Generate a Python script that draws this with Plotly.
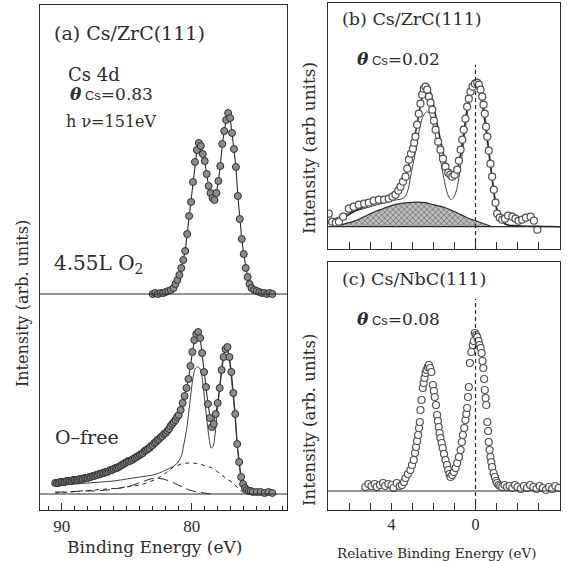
import plotly.graph_objects as go

# ---------------- data ----------------
# (a) Cs 4d, 4.55 L O2 exposed surface (intensity above its own baseline)
a_o2_be = [83.0, 82.8, 82.6, 82.4, 82.2, 82.0, 81.8, 81.6, 81.4, 81.25,
           81.1, 80.95, 80.8, 80.65, 80.5, 80.35, 80.2, 80.05, 79.9, 79.75,
           79.6, 79.45, 79.3, 79.15, 79.0, 78.85, 78.7, 78.55, 78.4, 78.25,
           78.1, 77.95, 77.8, 77.65, 77.5, 77.35, 77.2, 77.05, 76.9, 76.75,
           76.6, 76.45, 76.3, 76.15, 76.0, 75.85, 75.7, 75.55, 75.4, 75.2,
           75.0, 74.8, 74.6, 74.4, 74.2, 74.0, 73.8]
a_o2_int = [0, 1, 0, 1, 1, 2, 3, 4, 6, 10,
            14, 19, 26, 34, 43, 60, 78, 92, 112, 132,
            144, 151, 148, 140, 133, 120, 108, 101, 96, 94,
            101, 113, 128, 150, 163, 174, 181, 176, 161, 145,
            127, 98, 75, 55, 40, 26, 17, 10, 6, 4,
            3, 2, 1, 1, 0, 1, 0]

# (a) Cs 4d, O-free surface
a_free_be = [90.5, 90.375, 90.25, 90.125, 90.0, 89.875, 89.75, 89.625, 89.5, 89.375,
             89.25, 89.125, 89.0, 88.875, 88.75, 88.625, 88.5, 88.375, 88.25, 88.125,
             88.0, 87.875, 87.75, 87.625, 87.5, 87.375, 87.25, 87.125, 87.0, 86.875,
             86.75, 86.625, 86.5, 86.375, 86.25, 86.125, 86.0, 85.875, 85.75, 85.625,
             85.5, 85.375, 85.25, 85.125, 85.0, 84.875, 84.75, 84.625, 84.5, 84.375,
             84.25, 84.125, 84.0, 83.875, 83.75, 83.625, 83.5, 83.375, 83.25, 83.125,
             83.0, 82.875, 82.75, 82.625, 82.5, 82.375, 82.25, 82.125, 82.0, 81.875,
             81.75, 81.625, 81.5, 81.375, 81.25, 81.125, 81.0,
             80.85, 80.7, 80.55, 80.4, 80.25, 80.1, 79.95, 79.8, 79.65, 79.5,
             79.35, 79.2, 79.05, 78.9, 78.75, 78.6, 78.45, 78.3, 78.15, 78.0,
             77.85, 77.7, 77.55, 77.4, 77.25, 77.1, 76.95, 76.8, 76.65, 76.5,
             76.35, 76.2, 76.05, 75.9, 75.75, 75.6, 75.45, 75.3,
             75.0, 74.7, 74.4, 74.1, 73.8]
a_free_int = [11, 11, 11, 12, 12, 12, 12, 13, 13, 13,
              13, 14, 14, 14, 14, 15, 15, 15, 16, 16,
              16, 17, 17, 18, 18, 19, 19, 20, 20, 21,
              21, 22, 22, 23, 24, 24, 25, 26, 26, 27,
              28, 29, 30, 31, 32, 33, 33, 34, 35, 36,
              37, 38, 39, 40, 41, 43, 44, 45, 46, 48,
              49, 51, 52, 54, 55, 57, 58, 60, 61, 63,
              65, 68, 70, 72, 74, 77, 79,
              84, 91, 98, 106, 115, 128, 142, 154, 160, 162,
              156, 141, 122, 107, 90, 76, 67, 70, 80, 91,
              106, 124, 137, 145, 147, 137, 122, 101, 80, 50,
              32, 17, 10, 6, 4, 3, 3, 2,
              2, 2, 1, 2, 1]

# (a) fitted components of the O-free spectrum
a_main_be = [90.5, 89.0, 88.0, 87.0, 86.0, 85.0, 84.0, 83.0, 82.5, 82.0,
             81.5, 81.1, 80.8, 80.6, 80.4, 80.2, 80.0, 79.85, 79.7, 79.55,
             79.4, 79.25, 79.1, 78.95, 78.8, 78.65, 78.5, 78.35, 78.2, 78.05,
             77.9, 77.75, 77.6, 77.45, 77.3, 77.15, 77.0, 76.85, 76.7, 76.55,
             76.4, 76.25, 76.1, 75.9, 75.6, 75.0, 74.0]
a_main_int = [9, 10, 11, 12, 13, 15, 17, 19, 21, 24,
              27, 31, 38, 50, 64, 85, 107, 120, 126, 127,
              126, 120, 106, 88, 70, 55, 46, 48, 60, 80,
              100, 120, 136, 144, 146, 138, 122, 102, 82, 56,
              35, 19, 10, 5, 2, 1, 0]
a_short_be = [90.5, 89.5, 88.5, 87.5, 86.5, 85.5, 84.5, 83.9, 83.3, 82.7,
              82.1, 81.4, 80.8, 80.3, 79.9, 79.4, 78.9, 78.4, 77.9, 77.4,
              76.8, 76.4, 76.1, 75.8]
a_short_int = [1, 2, 3, 4, 5, 6, 8, 9, 12, 15,
               20, 27, 30, 31, 31, 30, 28, 26, 21, 16,
               11, 5, 2, 0]
a_long_be = [90.5, 89.5, 88.5, 87.5, 86.5, 85.5, 84.5, 83.8, 83.2, 82.7,
             82.2, 81.7, 81.2, 80.7, 80.2, 79.6, 79.0, 78.5]
a_long_int = [2, 2, 3, 3, 4, 6, 9, 12, 15, 16,
              15, 13, 10, 7, 4, 2, 1, 0]

# (b) Cs/ZrC(111), coverage 0.02
b_be = [6.98, 6.82, 6.65, 6.5, 6.3, 6.03, 5.8, 5.56, 5.3, 5.08,
        4.85, 4.6, 4.35, 4.13, 3.95, 3.81, 3.68, 3.57, 3.45, 3.33,
        3.25, 3.17, 3.07, 2.98, 2.92, 2.86, 2.78, 2.7, 2.62, 2.54,
        2.46, 2.38, 2.3, 2.22, 2.14, 2.06, 1.98, 1.9, 1.78, 1.67,
        1.55, 1.43, 1.3, 1.2, 1.11, 1.0, 0.87, 0.79, 0.71, 0.63,
        0.56, 0.48, 0.4, 0.32, 0.24, 0.14, 0.03, -0.08, -0.16, -0.24,
        -0.32, -0.38, -0.44, -0.5, -0.56, -0.63, -0.71, -0.79, -0.87, -0.95,
        -1.03, -1.15, -1.27, -1.4, -1.55, -1.75, -1.9, -2.05, -2.22, -2.4,
        -2.62, -2.78, -2.94]
b_int = [13, 5, 4, 5, 10, 18, 20, 22, 23, 24,
         26, 27, 27, 28, 30, 32, 36, 40, 45, 50,
         58, 67, 73, 78, 84, 90, 102, 113, 123, 132,
         138, 140, 137, 130, 124, 117, 106, 97, 85, 77,
         68, 60, 54, 52, 50, 52, 57, 66, 77, 87,
         97, 108, 120, 128, 135, 140, 143, 144, 142, 137,
         130, 122, 113, 100, 90, 76, 63, 50, 37, 24,
         13, 9, 7, 8, 11, 10, 8, 6, 7, 9,
         10, 6, -3]
b_fit_be = [7.0, 6.6, 6.2, 5.8, 5.4, 5.0, 4.6, 4.2, 3.9, 3.6,
            3.4, 3.2, 3.0, 2.8, 2.6, 2.45, 2.3, 2.15, 2.0, 1.8,
            1.6, 1.4, 1.25, 1.1, 0.95, 0.8, 0.6, 0.4, 0.2, 0.05,
            -0.1, -0.25, -0.4, -0.55, -0.7, -0.85, -1.0, -1.2, -1.5, -2.0,
            -2.5, -3.0, -3.5, -4.0]
b_fit_int = [3, 6, 10, 15, 19, 22, 25, 28, 31, 36,
             44, 60, 79, 100, 124, 136, 140, 135, 122, 100,
             80, 62, 53, 50, 53, 62, 88, 117, 137, 143,
             141, 130, 112, 88, 63, 38, 18, 6, 2, 1,
             0.5, 0.3, 0.2, 0]
b_doublet_be = [7.0, 6.5, 6.0, 5.5, 5.0, 4.5, 4.0, 3.7, 3.5, 3.35,
                3.2, 3.05, 2.9, 2.75, 2.6, 2.45, 2.3, 2.15, 2.0, 1.85,
                1.7, 1.55, 1.4, 1.25, 1.15, 1.05, 0.9, 0.75, 0.6, 0.45,
                0.3, 0.15, 0.0, -0.15, -0.3, -0.45, -0.6, -0.75, -0.9, -1.05,
                -1.3, -1.6, -2.0]
b_doublet_int = [5, 10, 14, 17, 20, 23, 26, 27, 28, 30,
                 38, 55, 70, 88, 104, 112, 115, 111, 100, 86,
                 70, 53, 38, 29, 27, 29, 37, 55, 78, 104,
                 125, 138, 143, 141, 131, 112, 85, 57, 33, 16,
                 5, 1, 0]
b_broad_be = [6.8, 6.4, 6.0, 5.6, 5.2, 4.8, 4.4, 4.0, 3.6, 3.2,
              2.8, 2.4, 2.0, 1.6, 1.2, 0.8, 0.4, 0.0, -0.4, -0.8]
b_broad_int = [0, 2, 4, 7, 11, 15, 18, 21, 23, 24,
               24.5, 24, 22, 20, 17, 13, 9, 6, 3, 0]

# (c) Cs/NbC(111), coverage 0.08
c_be = [5.24, 5.1, 4.95, 4.8, 4.7, 4.55, 4.4, 4.3, 4.15, 4.0,
        3.9, 3.75, 3.6, 3.5, 3.4, 3.33, 3.22, 3.1, 3.02, 2.94,
        2.88, 2.83, 2.78, 2.73, 2.69, 2.65, 2.62, 2.57, 2.51, 2.47,
        2.43, 2.38, 2.33, 2.27, 2.22, 2.16, 2.1, 2.03, 1.98, 1.94,
        1.88, 1.83, 1.79, 1.75, 1.71, 1.67, 1.61, 1.56, 1.5, 1.43,
        1.36, 1.3, 1.24, 1.19, 1.11, 1.03, 0.95, 0.87, 0.79, 0.71,
        0.65, 0.6, 0.54, 0.48, 0.44, 0.4, 0.36, 0.32, 0.27, 0.2,
        0.13, 0.08, 0.03, -0.03, -0.08, -0.14, -0.19, -0.24, -0.29, -0.33,
        -0.37, -0.41, -0.44, -0.48, -0.51, -0.56, -0.6, -0.63, -0.67, -0.71,
        -0.75, -0.79, -0.86, -0.92, -0.98, -1.03, -1.1, -1.18, -1.27, -1.38,
        -1.5, -1.62, -1.75, -1.88, -2.0, -2.15, -2.3, -2.45, -2.6, -2.75,
        -2.9, -3.05, -3.2, -3.35, -3.5, -3.65, -3.8, -3.95]
c_int = [4, 7, 5, 7, 4, 6, 8, 5, 7, 6,
         3, 8, 5, 6, 9, 13, 17, 21, 26, 31,
         38, 44, 50, 56, 63, 69, 81, 91, 103, 108,
         113, 118, 121, 124, 126, 123, 119, 106, 100, 94,
         86, 76, 70, 64, 58, 53, 48, 43, 37, 31,
         26, 21, 17, 14, 16, 19, 23, 28, 34, 41,
         49, 56, 63, 71, 77, 83, 94, 104, 128, 139,
         146, 150, 158, 156, 154, 150, 146, 143, 138, 130,
         123, 112, 101, 93, 86, 69, 60, 49, 41, 34,
         29, 24, 18, 14, 10, 8, 6, 5, 4, 6,
         4, 5, 3, 6, 4, 2, 5, 3, 6, 4,
         2, 5, 3, 1, 4, 2, 5, 3]

a_tick_vals = [90, 80]
rel_tick_vals = [4, 0, -4]
rel_tick_text = ["4", "0", "\u22124"]

# vertical offset of the oxygen-exposed spectrum in panel (a)
O2_OFFSET = 200

# ---------------- styling helpers ----------------
W, H = 567, 561
SERIF = "DejaVu Serif"
NUM_FONT = "Liberation Serif"
SANS = "Liberation Sans"
INK = "#2b2b2b"


def px(x):
    return x / W


def py(y):
    return 1 - y / H


fig = go.Figure()

filled_marker = dict(symbol="circle", size=7, color="#8c8c8c",
                     line=dict(color="#2e2e2e", width=1))
open_marker = dict(symbol="circle", size=7, color="white",
                   line=dict(color="#505050", width=1.2))

# ---- panel (a) ----
fig.add_trace(go.Scatter(x=a_long_be, y=a_long_int, mode="lines",
                         line=dict(color=INK, width=1, dash="10px,5px"),
                         xaxis="x", yaxis="y"))
fig.add_trace(go.Scatter(x=a_short_be, y=a_short_int, mode="lines",
                         line=dict(color=INK, width=1, dash="4px,4px"),
                         xaxis="x", yaxis="y"))
fig.add_trace(go.Scatter(x=a_main_be, y=a_main_int, mode="lines",
                         line=dict(color=INK, width=0.9, shape="spline"),
                         xaxis="x", yaxis="y"))
fig.add_trace(go.Scatter(x=a_free_be, y=a_free_int, mode="lines+markers",
                         line=dict(color=INK, width=1.1),
                         marker=filled_marker, xaxis="x", yaxis="y"))
fig.add_trace(go.Scatter(x=a_o2_be, y=[v + O2_OFFSET for v in a_o2_int],
                         mode="lines+markers",
                         line=dict(color=INK, width=1.1),
                         marker=filled_marker, xaxis="x", yaxis="y"))

# ---- panel (b) ----
fig.add_trace(go.Scatter(x=b_broad_be, y=b_broad_int, mode="lines",
                         fill="tozeroy",
                         fillpattern=dict(shape="x", size=4, solidity=0.4,
                                          fgcolor="#333333", bgcolor="#bdbdbd"),
                         line=dict(color=INK, width=1.2, shape="spline"),
                         xaxis="x2", yaxis="y2"))
fig.add_trace(go.Scatter(x=b_doublet_be, y=b_doublet_int, mode="lines",
                         line=dict(color=INK, width=0.9, shape="spline"),
                         xaxis="x2", yaxis="y2"))
fig.add_trace(go.Scatter(x=b_fit_be, y=b_fit_int, mode="lines",
                         line=dict(color=INK, width=1.6, shape="spline"),
                         xaxis="x2", yaxis="y2"))
fig.add_trace(go.Scatter(x=b_be, y=b_int, mode="markers",
                         marker=open_marker, xaxis="x2", yaxis="y2"))

# ---- panel (c) ----
fig.add_trace(go.Scatter(x=c_be, y=c_int, mode="markers",
                         marker=open_marker, xaxis="x3", yaxis="y3"))

# ---------------- axes ----------------
frame = dict(showline=True, mirror=True, linecolor=INK, linewidth=1.3,
             showgrid=False, zeroline=False)
inside_ticks = dict(ticks="inside", ticklen=7, tickwidth=1.2, tickcolor=INK)
rel_minor = dict(ticks="inside", ticklen=7, tickwidth=1.2, tickcolor=INK,
                 dtick=1, tick0=0)

fig.update_layout(
    width=W, height=H,
    margin=dict(l=0, r=0, t=0, b=0),
    paper_bgcolor="white", plot_bgcolor="white",
    showlegend=False,
    xaxis=dict(**frame, **inside_ticks, domain=[px(40), px(287)],
               range=[91.67, 72.67], anchor="y",
               tickmode="array", tickvals=a_tick_vals,
               minor=dict(ticks="inside", ticklen=4, tickwidth=1,
                          tickcolor=INK, dtick=1, tick0=0),
               tickfont=dict(family=NUM_FONT, size=17, color=INK)),
    yaxis=dict(**frame, domain=[py(510), py(5)], range=[-16, 489],
               anchor="x", showticklabels=False, ticks=""),
    xaxis2=dict(**frame, **inside_ticks, domain=[px(328), px(560)],
                range=[7.02, -4.02], anchor="y2",
                tickmode="array", tickvals=rel_tick_vals, minor=rel_minor,
                showticklabels=False),
    yaxis2=dict(**frame, domain=[py(249), py(3)], range=[-22.3, 223.7],
                anchor="x2", showticklabels=False, ticks=""),
    xaxis3=dict(**frame, **inside_ticks, domain=[px(328), px(560)],
                range=[7.02, -4.02], anchor="y3",
                tickmode="array", tickvals=rel_tick_vals,
                ticktext=rel_tick_text, minor=rel_minor,
                tickfont=dict(family=NUM_FONT, size=16, color=INK)),
    yaxis3=dict(**frame, domain=[py(510), py(262)], range=[-19, 229],
                anchor="x3", showticklabels=False, ticks=""),
)

# baselines and the zero-energy markers
shapes = [
    dict(type="line", xref="x domain", yref="y", x0=0, x1=1, y0=0, y1=0,
         line=dict(color=INK, width=1.2)),
    dict(type="line", xref="x domain", yref="y", x0=0, x1=1,
         y0=O2_OFFSET, y1=O2_OFFSET, line=dict(color=INK, width=1.2)),
    dict(type="line", xref="x2 domain", yref="y2", x0=0, x1=1, y0=0, y1=0,
         line=dict(color=INK, width=1.2)),
    dict(type="line", xref="x3 domain", yref="y3", x0=0, x1=1, y0=0, y1=0,
         line=dict(color=INK, width=1.2)),
    dict(type="line", xref="x2", yref="y2", x0=0, x1=0, y0=-22.3, y1=162,
         line=dict(color=INK, width=1.2, dash="4px,3px")),
    dict(type="line", xref="x3", yref="y3", x0=0, x1=0, y0=-19, y1=192,
         line=dict(color=INK, width=1.2, dash="4px,3px")),
]
fig.update_layout(shapes=shapes)


def label(text, x, y, size, xanchor="left", angle=0, family=SERIF):
    fig.add_annotation(text=text, x=px(x), y=py(y), xref="paper", yref="paper",
                       xanchor=xanchor, yanchor="middle", showarrow=False,
                       textangle=angle,
                       font=dict(family=family, size=size, color=INK))


def coverage(value):
    return ("<b><i>\u03b8</i></b>"
            f"<span style='font-family:{SANS};font-size:13px'> Cs</span>"
            f"={value}")


label("(a) Cs/ZrC(111)", 52, 33, 19)
label("Cs 4d", 66, 75, 18)
label(coverage("0.83"), 68, 94, 17)
label("h \u03bd=151eV", 64, 121, 16)
label("4.55L O<sub>2</sub>", 52, 264, 20)
label("O\u2013free", 53, 437, 19)
label("(b) Cs/ZrC(111)", 340, 19, 17.5)
label(coverage("0.02"), 355, 59, 17)
label("(c) Cs/NbC(111)", 340, 279, 17.5)
label(coverage("0.08"), 355, 319, 17)

label("Binding Energy (eV)", 154, 547, 17, xanchor="center")
label("Relative Binding Energy (eV)", 437, 553, 13.5, xanchor="center")
label("Intensity (arb. units)", 22, 304, 16, xanchor="center", angle=-90)
label("Intensity (arb units)", 309, 148, 17, xanchor="center", angle=-90)
label("Intensity (arb. units)", 309, 420, 16.5, xanchor="center", angle=-90)

fig.write_html("out.html")
